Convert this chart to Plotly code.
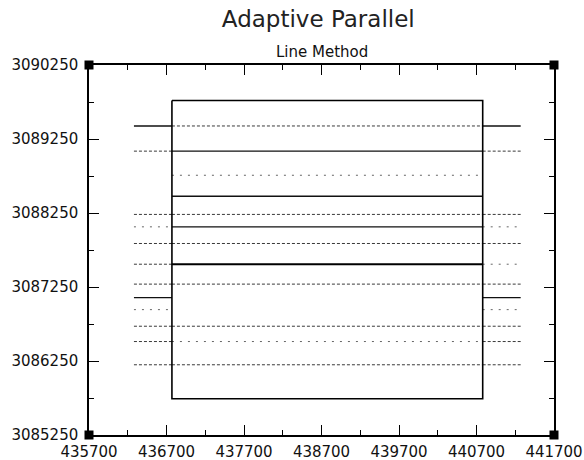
import plotly.graph_objects as go

# ---- data ----
x_range = [435700, 441700]
y_range = [3085250, 3090250]
x_ticks = [435700, 436700, 437700, 438700, 439700, 440700, 441700]
y_ticks = [3085250, 3086250, 3087250, 3088250, 3089250, 3090250]

block_x = [436770, 440780]          # survey block west / east edge
block_y = [3085740, 3089770]        # survey block south / north edge
line_start_x = 436280               # flight line start (west)
line_end_x = 441270                 # flight line end (east)

line_y = [3089426, 3089086, 3088760, 3088476, 3088231, 3088063, 3087838,
          3087558, 3087289, 3087106, 3086944, 3086720, 3086513, 3086199]
# segment status: west run-in, inside block, east run-out
# S = flown, D = planned, P = partial, T = flown (heavy), None = absent
seg_west = ['S', 'D', None, None, 'D', 'P', 'D', 'D', 'D', 'S', 'P', 'D', 'D', 'D']
seg_in   = ['D', 'S', 'P', 'S', 'D', 'S', 'D', 'T', 'D', None, None, 'D', 'P', 'D']
seg_east = ['S', 'D', None, None, 'D', 'P', 'D', 'P', 'D', 'S', 'P', 'D', 'D', 'D']

title = "Adaptive Parallel"
subtitle = "Line Method"

# ---- styles ----
styles = {
    'S': dict(color='#111111', width=1.4, dash='solid'),
    'T': dict(color='#000000', width=2.0, dash='solid'),
    'D': dict(color='#3a3a3a', width=1.0, dash='3px,2px'),
    'P': dict(color='#666666', width=1.0, dash='2px,6px'),
}

segs = {k: ([], []) for k in styles}
for i, yv in enumerate(line_y):
    for status, x0, x1 in ((seg_west[i], line_start_x, block_x[0]),
                           (seg_in[i], block_x[0], block_x[1]),
                           (seg_east[i], block_x[1], line_end_x)):
        if status is None:
            continue
        xs, ys = segs[status]
        xs += [x0, x1, None]
        ys += [yv, yv, None]

fig = go.Figure()
for k, (xs, ys) in segs.items():
    if xs:
        fig.add_trace(go.Scatter(x=xs, y=ys, mode='lines', line=styles[k],
                                 hoverinfo='skip', showlegend=False))

# block outline
fig.add_trace(go.Scatter(
    x=[block_x[0], block_x[1], block_x[1], block_x[0], block_x[0]],
    y=[block_y[1], block_y[1], block_y[0], block_y[0], block_y[1]],
    mode='lines', line=dict(color='#000000', width=1.6),
    hoverinfo='skip', showlegend=False))

# corner markers
fig.add_trace(go.Scatter(
    x=[x_range[0], x_range[1], x_range[0], x_range[1]],
    y=[y_range[1], y_range[1], y_range[0], y_range[0]],
    mode='markers', marker=dict(symbol='square', size=9, color='#000000'),
    cliponaxis=False, hoverinfo='skip', showlegend=False))

font_family = "DejaVu Sans"
axis_common = dict(
    showline=True, linecolor='#000000', linewidth=1.5, mirror='ticks',
    ticks='inside', ticklen=10, tickwidth=1.3, tickcolor='#000000',
    showgrid=False, zeroline=False, tickformat='d', automargin=False,
    tickfont=dict(family=font_family, size=15, color='#111111'),
)

fig.update_xaxes(range=x_range, tickvals=x_ticks, ticklabelstandoff=2,
                 minor=dict(ticks='inside', ticklen=5, tickwidth=1.2,
                            tickcolor='#000000', dtick=500, tick0=x_range[0]),
                 **axis_common)
fig.update_yaxes(range=y_range, tickvals=y_ticks, ticklabelstandoff=6,
                 minor=dict(ticks='inside', ticklen=5, tickwidth=1.2,
                            tickcolor='#000000', dtick=500, tick0=y_range[0]),
                 **axis_common)

fig.update_layout(
    width=584, height=460,
    margin=dict(l=89, r=30, t=65, b=25),
    paper_bgcolor='white', plot_bgcolor='white',
    title=dict(text=title, x=0.545, xanchor='center', y=1 - 19 / 460,
               yanchor='middle', automargin=False,
               font=dict(family=font_family, size=23, color='#222222')),
    annotations=[dict(text=subtitle, xref='paper', yref='paper', x=0.5, y=1,
                      xanchor='center', yanchor='bottom', yshift=2,
                      showarrow=False,
                      font=dict(family=font_family, size=15, color='#111111'))],
)

fig.write_html("out.html")
